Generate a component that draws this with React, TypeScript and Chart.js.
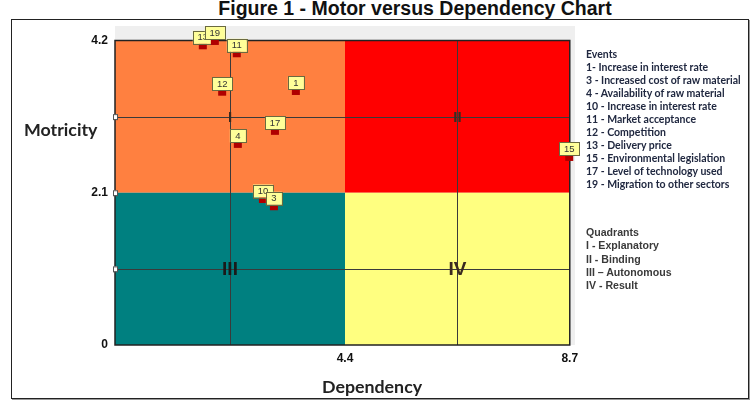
import React, { useEffect, useRef } from "react";
import { Chart, registerables } from "chart.js";

Chart.register(...registerables);

// ---- data ----
const eventIds = ["1", "4", "10", "3", "11", "12", "13", "19", "15", "17"];
const dependency = [3.46, 2.35, 2.83, 3.04, 2.33, 2.05, 1.68, 1.91, 8.69, 3.06];
const motricity = [3.49, 2.76, 2.0, 1.9, 4.01, 3.48, 4.12, 4.18, 2.58, 2.94];
const xTicks = [4.4, 8.7];
const yTicks = [0, 2.1, 4.2];
const xBounds = [0, 4.4, 8.7];
const yBounds = [0, 2.1, 4.2];
const quadrantNames = ["I", "II", "III", "IV"];
const quadrantColors = ["#ff8040", "#ff0000", "#008080", "#ffff80"];
const eventLegend = [
  "1- Increase in interest rate",
  "3 - Increased cost of raw material",
  "4 - Availability of raw material",
  "10 - Increase in interest rate",
  "11 - Market acceptance",
  "12 - Competition",
  "13 - Delivery price",
  "15 - Environmental legislation",
  "17 - Level of technology used",
  "19 - Migration to other sectors",
];
const quadrantLegend = ["I - Explanatory", "II - Binding", "III \u2013 Autonomous", "IV - Result"];

const quadrantPlugin = {
  id: "quadrants",
  beforeDatasetsDraw(chart: any) {
    const { ctx, chartArea, scales } = chart;
    const xs = scales.x;
    const ys = scales.y;
    ctx.save();
    ctx.fillStyle = "#efefef";
    ctx.fillRect(chartArea.left, chartArea.top, chartArea.right - chartArea.left, chartArea.bottom - chartArea.top);
    const cells = [
      [0, 1],
      [1, 1],
      [0, 0],
      [1, 0],
    ];
    cells.forEach(([ci, ri], i) => {
      const x0 = xs.getPixelForValue(xBounds[ci]);
      const x1 = xs.getPixelForValue(xBounds[ci + 1]);
      const y0 = ys.getPixelForValue(yBounds[ri + 1]);
      const y1 = ys.getPixelForValue(yBounds[ri]);
      ctx.fillStyle = quadrantColors[i];
      ctx.fillRect(x0, y0, x1 - x0, y1 - y0);
    });
    const L = xs.getPixelForValue(xBounds[0]);
    const R = xs.getPixelForValue(xBounds[2]);
    const T = ys.getPixelForValue(yBounds[2]);
    const B = ys.getPixelForValue(yBounds[0]);
    ctx.strokeStyle = "#3a3a3a";
    ctx.lineWidth = 1;
    const xm = [(xBounds[0] + xBounds[1]) / 2, (xBounds[1] + xBounds[2]) / 2];
    const ym = [(yBounds[0] + yBounds[1]) / 2, (yBounds[1] + yBounds[2]) / 2];
    xm.forEach((v) => {
      const p = Math.round(xs.getPixelForValue(v)) + 0.5;
      ctx.beginPath();
      ctx.moveTo(p, T);
      ctx.lineTo(p, B);
      ctx.stroke();
    });
    ym.forEach((v) => {
      const p = Math.round(ys.getPixelForValue(v)) + 0.5;
      ctx.beginPath();
      ctx.moveTo(L, p);
      ctx.lineTo(R, p);
      ctx.stroke();
    });
    ctx.strokeStyle = "#222";
    ctx.lineWidth = 1.5;
    ctx.strokeRect(L, T, R - L, B - T);
    [ym[1], yBounds[1], ym[0]].forEach((v) => {
      const p = ys.getPixelForValue(v);
      ctx.fillStyle = "#ffffff";
      ctx.strokeStyle = "#555";
      ctx.lineWidth = 1;
      ctx.fillRect(L - 2, p - 2.5, 4, 5);
      ctx.strokeRect(L - 2 + 0.5, p - 2.5 + 0.5, 4, 5);
    });
    const pos = [
      [xm[0], ym[1], 15],
      [xm[1], ym[1], 15],
      [xm[0], ym[0], 19],
      [xm[1], ym[0], 19],
    ];
    ctx.textAlign = "center";
    ctx.textBaseline = "middle";
    pos.forEach(([vx, vy, sz], i) => {
      ctx.font = `bold ${sz}px "Liberation Sans", Arial, sans-serif`;
      ctx.fillStyle = i === 2 ? "#1a1a1a" : "#3a2a20";
      ctx.fillText(quadrantNames[i], xs.getPixelForValue(vx), ys.getPixelForValue(vy) + 1);
    });
    ctx.restore();
  },
  afterDatasetsDraw(chart: any) {
    const { ctx } = chart;
    const meta = chart.getDatasetMeta(0);
    ctx.save();
    ctx.font = '9.5px "Liberation Sans", Arial, sans-serif';
    ctx.textAlign = "center";
    ctx.textBaseline = "middle";
    meta.data.forEach((el: any, i: number) => {
      const { x, y } = el.getProps(["x", "y"], true);
      ctx.fillStyle = "#b00000";
      ctx.fillRect(x - 4, y - 3, 8, 6);
      const label = eventIds[i];
      const w = label.length > 1 ? 20 : 16;
      const h = 13;
      const cy = y - 9;
      ctx.fillStyle = "#ffff99";
      ctx.fillRect(x - w / 2, cy - h / 2, w, h);
      ctx.strokeStyle = "#6a6a40";
      ctx.lineWidth = 1;
      ctx.strokeRect(Math.round(x - w / 2) + 0.5, Math.round(cy - h / 2) + 0.5, w, h);
      ctx.fillStyle = "#333";
      ctx.fillText(label, x, cy + 0.5);
    });
    ctx.restore();
  },
};

export default function App() {
  const ref = useRef<HTMLCanvasElement>(null);
  useEffect(() => {
    if (!ref.current) return;
    const tickFont = { family: '"Liberation Sans", Arial, sans-serif', size: 12, weight: "bold" as const };
    const chart = new Chart(ref.current, {
      type: "scatter",
      data: {
        datasets: [
          {
            label: "Events",
            data: dependency.map((d, i) => ({ x: d, y: motricity[i] })),
            pointRadius: 0,
            pointHoverRadius: 0,
            backgroundColor: "#c00000",
          },
        ],
      },
      options: {
        animation: false,
        responsive: false,
        events: [],
        layout: { padding: { top: 26, right: 180, bottom: 0, left: 0 } },
        plugins: { legend: { display: false }, tooltip: { enabled: false }, title: { display: false } },
        scales: {
          x: {
            type: "linear",
            min: 0,
            max: 8.8,
            grid: { display: false, drawTicks: false },
            border: { display: false },
            ticks: { font: tickFont, color: "#111", padding: 6, callback: (v: any) => Number(v).toFixed(1) },
            afterBuildTicks: (s: any) => {
              s.ticks = xTicks.map((v) => ({ value: v }));
            },
            afterFit: (s: any) => {
              s.height = 59;
            },
          },
          y: {
            type: "linear",
            min: 0,
            max: 4.4,
            grid: { display: false, drawTicks: false },
            border: { display: false },
            ticks: {
              font: tickFont,
              color: "#111",
              padding: 7,
              callback: (v: any) => (Number(v) === 0 ? "0" : Number(v).toFixed(1)),
            },
            afterBuildTicks: (s: any) => {
              s.ticks = yTicks.map((v) => ({ value: v }));
            },
            afterFit: (s: any) => {
              s.width = 115;
            },
          },
        },
      },
      plugins: [quadrantPlugin],
    });
    return () => chart.destroy();
  }, []);

  const calibri = 'Lato, "Open Sans", "Noto Sans", sans-serif';
  return (
    <div style={{ position: "fixed", left: 0, top: 0, width: 755, height: 404, background: "#fff", overflow: "hidden" }}>
      <div
        style={{
          position: "absolute",
          left: 165,
          top: -3,
          width: 500,
          textAlign: "center",
          font: 'bold 19.5px "Liberation Sans", Arial, sans-serif',
          lineHeight: "22px",
          color: "#111",
          whiteSpace: "nowrap",
        }}
      >
        Figure 1 - Motor versus Dependency Chart
      </div>
      <div
        style={{
          position: "absolute",
          left: 11,
          top: 19,
          width: 738,
          height: 380,
          boxSizing: "border-box",
          border: "1.5px solid #222",
          boxShadow: "1px 1px 0 #999",
        }}
      />
      <canvas ref={ref} width={755} height={404} style={{ position: "absolute", left: 0, top: 0, width: 755, height: 404 }} />
      <div style={{ position: "absolute", left: 24, top: 118, font: `bold 17.8px ${calibri}`, color: "#222" }}>Motricity</div>
      <div style={{ position: "absolute", left: 322, top: 375, font: `bold 17.8px ${calibri}`, color: "#222" }}>Dependency</div>
      <div
        style={{
          position: "absolute",
          left: 586,
          top: 48,
          font: `bold 10.5px ${calibri}`,
          lineHeight: "13px",
          color: "#202840",
          whiteSpace: "nowrap",
        }}
      >
        <div>Events</div>
        {eventLegend.map((t) => (
          <div key={t}>{t}</div>
        ))}
      </div>
      <div
        style={{
          position: "absolute",
          left: 586,
          top: 226,
          font: 'bold 10.6px "Liberation Sans", Arial, sans-serif',
          lineHeight: "13.3px",
          color: "#3a3a3a",
          whiteSpace: "nowrap",
        }}
      >
        <div>Quadrants</div>
        {quadrantLegend.map((t) => (
          <div key={t}>{t}</div>
        ))}
      </div>
    </div>
  );
}
